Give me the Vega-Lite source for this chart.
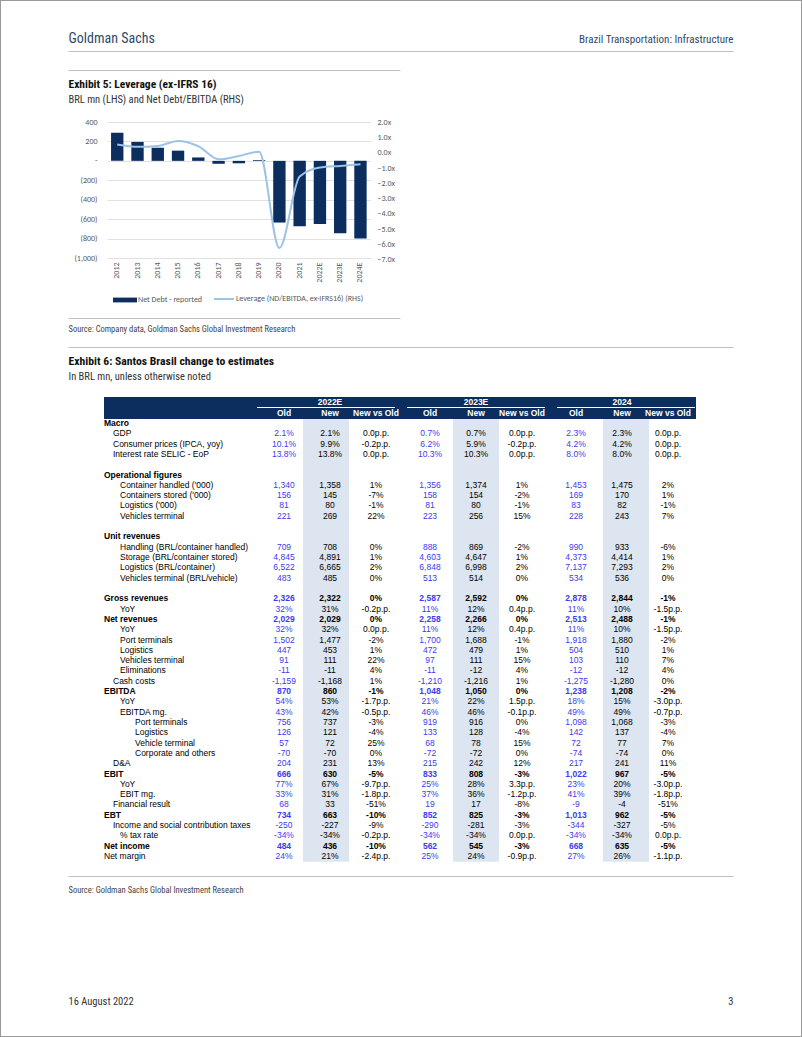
{
  "$schema": "https://vega.github.io/schema/vega-lite/v6.json",
  "background": "white",
  "autosize": "none",
  "padding": 0,
  "width": 802,
  "height": 1037,
  "config": {"view": {"stroke": "#9a9a9a", "strokeWidth": 2}, "font": "Liberation Sans"},
  "datasets": {
    "chart": [
      {"year": "2012", "nd": 290, "lev": 0.55},
      {"year": "2013", "nd": 195, "lev": 0.39},
      {"year": "2014", "nd": 135, "lev": 0.45},
      {"year": "2015", "nd": 105, "lev": 0.78},
      {"year": "2016", "nd": 35, "lev": 0.43},
      {"year": "2017", "nd": -30, "lev": -0.43},
      {"year": "2018", "nd": -25, "lev": -0.21},
      {"year": "2019", "nd": 8, "lev": 0.07},
      {"year": "2020", "nd": -635, "lev": -6.25},
      {"year": "2021", "nd": -672, "lev": -1.56},
      {"year": "2022E", "nd": -650, "lev": -0.97},
      {"year": "2023E", "nd": -745, "lev": -0.86},
      {"year": "2024E", "nd": -800, "lev": -0.75}
    ],
    "labels": [
      {"r": 0, "label": "Macro", "lvl": "0", "b": 1},
      {"r": 1, "label": "GDP", "lvl": "a", "b": 0},
      {"r": 2, "label": "Consumer prices (IPCA, yoy)", "lvl": "a", "b": 0},
      {"r": 3, "label": "Interest rate SELIC - EoP", "lvl": "a", "b": 0},
      {"r": 5, "label": "Operational figures", "lvl": "0", "b": 1},
      {"r": 6, "label": "Container handled ('000)", "lvl": "b", "b": 0},
      {"r": 7, "label": "Containers stored ('000)", "lvl": "b", "b": 0},
      {"r": 8, "label": "Logistics ('000)", "lvl": "b", "b": 0},
      {"r": 9, "label": "Vehicles terminal", "lvl": "b", "b": 0},
      {"r": 11, "label": "Unit revenues", "lvl": "0", "b": 1},
      {"r": 12, "label": "Handling (BRL/container handled)", "lvl": "b", "b": 0},
      {"r": 13, "label": "Storage (BRL/container stored)", "lvl": "b", "b": 0},
      {"r": 14, "label": "Logistics (BRL/container)", "lvl": "b", "b": 0},
      {"r": 15, "label": "Vehicles terminal (BRL/vehicle)", "lvl": "b", "b": 0},
      {"r": 17, "label": "Gross revenues", "lvl": "0", "b": 1},
      {"r": 18, "label": "YoY", "lvl": "b", "b": 0},
      {"r": 19, "label": "Net revenues", "lvl": "0", "b": 1},
      {"r": 20, "label": "YoY", "lvl": "b", "b": 0},
      {"r": 21, "label": "Port terminals", "lvl": "b", "b": 0},
      {"r": 22, "label": "Logistics", "lvl": "b", "b": 0},
      {"r": 23, "label": "Vehicles terminal", "lvl": "b", "b": 0},
      {"r": 24, "label": "Eliminations", "lvl": "b", "b": 0},
      {"r": 25, "label": "Cash costs", "lvl": "a", "b": 0},
      {"r": 26, "label": "EBITDA", "lvl": "0", "b": 1},
      {"r": 27, "label": "YoY", "lvl": "b", "b": 0},
      {"r": 28, "label": "EBITDA mg.", "lvl": "b", "b": 0},
      {"r": 29, "label": "Port terminals", "lvl": "c", "b": 0},
      {"r": 30, "label": "Logistics", "lvl": "c", "b": 0},
      {"r": 31, "label": "Vehicle terminal", "lvl": "c", "b": 0},
      {"r": 32, "label": "Corporate and others", "lvl": "c", "b": 0},
      {"r": 33, "label": "D&A", "lvl": "a", "b": 0},
      {"r": 34, "label": "EBIT", "lvl": "0", "b": 1},
      {"r": 35, "label": "YoY", "lvl": "b", "b": 0},
      {"r": 36, "label": "EBIT mg.", "lvl": "b", "b": 0},
      {"r": 37, "label": "Financial result", "lvl": "a", "b": 0},
      {"r": 38, "label": "EBT", "lvl": "0", "b": 1},
      {"r": 39, "label": "Income and social contribution taxes", "lvl": "a", "b": 0},
      {"r": 40, "label": "% tax rate", "lvl": "b", "b": 0},
      {"r": 41, "label": "Net income", "lvl": "0", "b": 1},
      {"r": 42, "label": "Net margin", "lvl": "0", "b": 0}
    ],
    "cells": [
      {"r": 1, "year": "2022E", "Old": "2.1%", "New": "2.1%", "New vs Old": "0.0p.p.", "b": 0},
      {"r": 1, "year": "2023E", "Old": "0.7%", "New": "0.7%", "New vs Old": "0.0p.p.", "b": 0},
      {"r": 1, "year": "2024", "Old": "2.3%", "New": "2.3%", "New vs Old": "0.0p.p.", "b": 0},
      {"r": 2, "year": "2022E", "Old": "10.1%", "New": "9.9%", "New vs Old": "-0.2p.p.", "b": 0},
      {"r": 2, "year": "2023E", "Old": "6.2%", "New": "5.9%", "New vs Old": "-0.2p.p.", "b": 0},
      {"r": 2, "year": "2024", "Old": "4.2%", "New": "4.2%", "New vs Old": "0.0p.p.", "b": 0},
      {"r": 3, "year": "2022E", "Old": "13.8%", "New": "13.8%", "New vs Old": "0.0p.p.", "b": 0},
      {"r": 3, "year": "2023E", "Old": "10.3%", "New": "10.3%", "New vs Old": "0.0p.p.", "b": 0},
      {"r": 3, "year": "2024", "Old": "8.0%", "New": "8.0%", "New vs Old": "0.0p.p.", "b": 0},
      {"r": 6, "year": "2022E", "Old": "1,340", "New": "1,358", "New vs Old": "1%", "b": 0},
      {"r": 6, "year": "2023E", "Old": "1,356", "New": "1,374", "New vs Old": "1%", "b": 0},
      {"r": 6, "year": "2024", "Old": "1,453", "New": "1,475", "New vs Old": "2%", "b": 0},
      {"r": 7, "year": "2022E", "Old": "156", "New": "145", "New vs Old": "-7%", "b": 0},
      {"r": 7, "year": "2023E", "Old": "158", "New": "154", "New vs Old": "-2%", "b": 0},
      {"r": 7, "year": "2024", "Old": "169", "New": "170", "New vs Old": "1%", "b": 0},
      {"r": 8, "year": "2022E", "Old": "81", "New": "80", "New vs Old": "-1%", "b": 0},
      {"r": 8, "year": "2023E", "Old": "81", "New": "80", "New vs Old": "-1%", "b": 0},
      {"r": 8, "year": "2024", "Old": "83", "New": "82", "New vs Old": "-1%", "b": 0},
      {"r": 9, "year": "2022E", "Old": "221", "New": "269", "New vs Old": "22%", "b": 0},
      {"r": 9, "year": "2023E", "Old": "223", "New": "256", "New vs Old": "15%", "b": 0},
      {"r": 9, "year": "2024", "Old": "228", "New": "243", "New vs Old": "7%", "b": 0},
      {"r": 12, "year": "2022E", "Old": "709", "New": "708", "New vs Old": "0%", "b": 0},
      {"r": 12, "year": "2023E", "Old": "888", "New": "869", "New vs Old": "-2%", "b": 0},
      {"r": 12, "year": "2024", "Old": "990", "New": "933", "New vs Old": "-6%", "b": 0},
      {"r": 13, "year": "2022E", "Old": "4,845", "New": "4,891", "New vs Old": "1%", "b": 0},
      {"r": 13, "year": "2023E", "Old": "4,603", "New": "4,647", "New vs Old": "1%", "b": 0},
      {"r": 13, "year": "2024", "Old": "4,373", "New": "4,414", "New vs Old": "1%", "b": 0},
      {"r": 14, "year": "2022E", "Old": "6,522", "New": "6,665", "New vs Old": "2%", "b": 0},
      {"r": 14, "year": "2023E", "Old": "6,848", "New": "6,998", "New vs Old": "2%", "b": 0},
      {"r": 14, "year": "2024", "Old": "7,137", "New": "7,293", "New vs Old": "2%", "b": 0},
      {"r": 15, "year": "2022E", "Old": "483", "New": "485", "New vs Old": "0%", "b": 0},
      {"r": 15, "year": "2023E", "Old": "513", "New": "514", "New vs Old": "0%", "b": 0},
      {"r": 15, "year": "2024", "Old": "534", "New": "536", "New vs Old": "0%", "b": 0},
      {"r": 17, "year": "2022E", "Old": "2,326", "New": "2,322", "New vs Old": "0%", "b": 1},
      {"r": 17, "year": "2023E", "Old": "2,587", "New": "2,592", "New vs Old": "0%", "b": 1},
      {"r": 17, "year": "2024", "Old": "2,878", "New": "2,844", "New vs Old": "-1%", "b": 1},
      {"r": 18, "year": "2022E", "Old": "32%", "New": "31%", "New vs Old": "-0.2p.p.", "b": 0},
      {"r": 18, "year": "2023E", "Old": "11%", "New": "12%", "New vs Old": "0.4p.p.", "b": 0},
      {"r": 18, "year": "2024", "Old": "11%", "New": "10%", "New vs Old": "-1.5p.p.", "b": 0},
      {"r": 19, "year": "2022E", "Old": "2,029", "New": "2,029", "New vs Old": "0%", "b": 1},
      {"r": 19, "year": "2023E", "Old": "2,258", "New": "2,266", "New vs Old": "0%", "b": 1},
      {"r": 19, "year": "2024", "Old": "2,513", "New": "2,488", "New vs Old": "-1%", "b": 1},
      {"r": 20, "year": "2022E", "Old": "32%", "New": "32%", "New vs Old": "0.0p.p.", "b": 0},
      {"r": 20, "year": "2023E", "Old": "11%", "New": "12%", "New vs Old": "0.4p.p.", "b": 0},
      {"r": 20, "year": "2024", "Old": "11%", "New": "10%", "New vs Old": "-1.5p.p.", "b": 0},
      {"r": 21, "year": "2022E", "Old": "1,502", "New": "1,477", "New vs Old": "-2%", "b": 0},
      {"r": 21, "year": "2023E", "Old": "1,700", "New": "1,688", "New vs Old": "-1%", "b": 0},
      {"r": 21, "year": "2024", "Old": "1,918", "New": "1,880", "New vs Old": "-2%", "b": 0},
      {"r": 22, "year": "2022E", "Old": "447", "New": "453", "New vs Old": "1%", "b": 0},
      {"r": 22, "year": "2023E", "Old": "472", "New": "479", "New vs Old": "1%", "b": 0},
      {"r": 22, "year": "2024", "Old": "504", "New": "510", "New vs Old": "1%", "b": 0},
      {"r": 23, "year": "2022E", "Old": "91", "New": "111", "New vs Old": "22%", "b": 0},
      {"r": 23, "year": "2023E", "Old": "97", "New": "111", "New vs Old": "15%", "b": 0},
      {"r": 23, "year": "2024", "Old": "103", "New": "110", "New vs Old": "7%", "b": 0},
      {"r": 24, "year": "2022E", "Old": "-11", "New": "-11", "New vs Old": "4%", "b": 0},
      {"r": 24, "year": "2023E", "Old": "-11", "New": "-12", "New vs Old": "4%", "b": 0},
      {"r": 24, "year": "2024", "Old": "-12", "New": "-12", "New vs Old": "4%", "b": 0},
      {"r": 25, "year": "2022E", "Old": "-1,159", "New": "-1,168", "New vs Old": "1%", "b": 0},
      {"r": 25, "year": "2023E", "Old": "-1,210", "New": "-1,216", "New vs Old": "1%", "b": 0},
      {"r": 25, "year": "2024", "Old": "-1,275", "New": "-1,280", "New vs Old": "0%", "b": 0},
      {"r": 26, "year": "2022E", "Old": "870", "New": "860", "New vs Old": "-1%", "b": 1},
      {"r": 26, "year": "2023E", "Old": "1,048", "New": "1,050", "New vs Old": "0%", "b": 1},
      {"r": 26, "year": "2024", "Old": "1,238", "New": "1,208", "New vs Old": "-2%", "b": 1},
      {"r": 27, "year": "2022E", "Old": "54%", "New": "53%", "New vs Old": "-1.7p.p.", "b": 0},
      {"r": 27, "year": "2023E", "Old": "21%", "New": "22%", "New vs Old": "1.5p.p.", "b": 0},
      {"r": 27, "year": "2024", "Old": "18%", "New": "15%", "New vs Old": "-3.0p.p.", "b": 0},
      {"r": 28, "year": "2022E", "Old": "43%", "New": "42%", "New vs Old": "-0.5p.p.", "b": 0},
      {"r": 28, "year": "2023E", "Old": "46%", "New": "46%", "New vs Old": "-0.1p.p.", "b": 0},
      {"r": 28, "year": "2024", "Old": "49%", "New": "49%", "New vs Old": "-0.7p.p.", "b": 0},
      {"r": 29, "year": "2022E", "Old": "756", "New": "737", "New vs Old": "-3%", "b": 0},
      {"r": 29, "year": "2023E", "Old": "919", "New": "916", "New vs Old": "0%", "b": 0},
      {"r": 29, "year": "2024", "Old": "1,098", "New": "1,068", "New vs Old": "-3%", "b": 0},
      {"r": 30, "year": "2022E", "Old": "126", "New": "121", "New vs Old": "-4%", "b": 0},
      {"r": 30, "year": "2023E", "Old": "133", "New": "128", "New vs Old": "-4%", "b": 0},
      {"r": 30, "year": "2024", "Old": "142", "New": "137", "New vs Old": "-4%", "b": 0},
      {"r": 31, "year": "2022E", "Old": "57", "New": "72", "New vs Old": "25%", "b": 0},
      {"r": 31, "year": "2023E", "Old": "68", "New": "78", "New vs Old": "15%", "b": 0},
      {"r": 31, "year": "2024", "Old": "72", "New": "77", "New vs Old": "7%", "b": 0},
      {"r": 32, "year": "2022E", "Old": "-70", "New": "-70", "New vs Old": "0%", "b": 0},
      {"r": 32, "year": "2023E", "Old": "-72", "New": "-72", "New vs Old": "0%", "b": 0},
      {"r": 32, "year": "2024", "Old": "-74", "New": "-74", "New vs Old": "0%", "b": 0},
      {"r": 33, "year": "2022E", "Old": "204", "New": "231", "New vs Old": "13%", "b": 0},
      {"r": 33, "year": "2023E", "Old": "215", "New": "242", "New vs Old": "12%", "b": 0},
      {"r": 33, "year": "2024", "Old": "217", "New": "241", "New vs Old": "11%", "b": 0},
      {"r": 34, "year": "2022E", "Old": "666", "New": "630", "New vs Old": "-5%", "b": 1},
      {"r": 34, "year": "2023E", "Old": "833", "New": "808", "New vs Old": "-3%", "b": 1},
      {"r": 34, "year": "2024", "Old": "1,022", "New": "967", "New vs Old": "-5%", "b": 1},
      {"r": 35, "year": "2022E", "Old": "77%", "New": "67%", "New vs Old": "-9.7p.p.", "b": 0},
      {"r": 35, "year": "2023E", "Old": "25%", "New": "28%", "New vs Old": "3.3p.p.", "b": 0},
      {"r": 35, "year": "2024", "Old": "23%", "New": "20%", "New vs Old": "-3.0p.p.", "b": 0},
      {"r": 36, "year": "2022E", "Old": "33%", "New": "31%", "New vs Old": "-1.8p.p.", "b": 0},
      {"r": 36, "year": "2023E", "Old": "37%", "New": "36%", "New vs Old": "-1.2p.p.", "b": 0},
      {"r": 36, "year": "2024", "Old": "41%", "New": "39%", "New vs Old": "-1.8p.p.", "b": 0},
      {"r": 37, "year": "2022E", "Old": "68", "New": "33", "New vs Old": "-51%", "b": 0},
      {"r": 37, "year": "2023E", "Old": "19", "New": "17", "New vs Old": "-8%", "b": 0},
      {"r": 37, "year": "2024", "Old": "-9", "New": "-4", "New vs Old": "-51%", "b": 0},
      {"r": 38, "year": "2022E", "Old": "734", "New": "663", "New vs Old": "-10%", "b": 1},
      {"r": 38, "year": "2023E", "Old": "852", "New": "825", "New vs Old": "-3%", "b": 1},
      {"r": 38, "year": "2024", "Old": "1,013", "New": "962", "New vs Old": "-5%", "b": 1},
      {"r": 39, "year": "2022E", "Old": "-250", "New": "-227", "New vs Old": "-9%", "b": 0},
      {"r": 39, "year": "2023E", "Old": "-290", "New": "-281", "New vs Old": "-3%", "b": 0},
      {"r": 39, "year": "2024", "Old": "-344", "New": "-327", "New vs Old": "-5%", "b": 0},
      {"r": 40, "year": "2022E", "Old": "-34%", "New": "-34%", "New vs Old": "-0.2p.p.", "b": 0},
      {"r": 40, "year": "2023E", "Old": "-34%", "New": "-34%", "New vs Old": "0.0p.p.", "b": 0},
      {"r": 40, "year": "2024", "Old": "-34%", "New": "-34%", "New vs Old": "0.0p.p.", "b": 0},
      {"r": 41, "year": "2022E", "Old": "484", "New": "436", "New vs Old": "-10%", "b": 1},
      {"r": 41, "year": "2023E", "Old": "562", "New": "545", "New vs Old": "-3%", "b": 1},
      {"r": 41, "year": "2024", "Old": "668", "New": "635", "New vs Old": "-5%", "b": 1},
      {"r": 42, "year": "2022E", "Old": "24%", "New": "21%", "New vs Old": "-2.4p.p.", "b": 0},
      {"r": 42, "year": "2023E", "Old": "25%", "New": "24%", "New vs Old": "-0.9p.p.", "b": 0},
      {"r": 42, "year": "2024", "Old": "27%", "New": "26%", "New vs Old": "-1.1p.p.", "b": 0}
    ]
  },
  "layer": [
    {
      "data": {"values": [{"v": 0}]},
      "mark": {"type": "point", "opacity": 0},
      "encoding": {
        "x": {"field": "v", "type": "quantitative", "scale": {"domain": [0, 1], "range": [68, 733]},
          "axis": {"orient": "bottom", "offset": -986, "domain": true, "domainColor": "#bfbfbf", "domainWidth": 1, "ticks": false, "labels": false, "grid": false,
            "title": "Brazil Transportation: Infrastructure", "titleX": 733, "titleY": -9, "titleAlign": "right", "titleBaseline": "alphabetic",
            "titleFont": "Roboto Condensed, Liberation Sans Narrow, Arial Narrow, DejaVu Sans Condensed, sans-serif", "titleFontSize": 11, "titleFontWeight": "normal", "titleColor": "#2e4a6b"}},
        "y": {"field": "v", "type": "quantitative", "scale": {"domain": [0, 1]},
          "axis": {"orient": "left", "offset": 0, "domain": false, "ticks": false, "labels": false, "grid": false,
            "title": "Goldman Sachs", "titleX": 68, "titleY": 42, "titleAngle": 0, "titleAlign": "left", "titleBaseline": "alphabetic",
            "titleFont": "Roboto Condensed, Liberation Sans Narrow, Arial Narrow, DejaVu Sans Condensed, sans-serif", "titleFontSize": 14, "titleFontWeight": "normal", "titleColor": "#2e4a6b"}}
      }
    },
    {
      "data": {"values": [{"v": 0}]},
      "mark": {"type": "point", "opacity": 0},
      "encoding": {
        "x": {"field": "v", "type": "quantitative", "scale": {"domain": [0, 1], "range": [68, 400]},
          "axis": {"orient": "bottom", "offset": -967, "domain": true, "domainColor": "#bfbfbf", "domainWidth": 1, "ticks": false, "labels": false, "grid": false,
            "title": "Exhibit 5: Leverage (ex-IFRS 16)", "titleX": 68, "titleY": 17, "titleAlign": "left", "titleBaseline": "alphabetic",
            "titleFont": "Roboto Condensed, Liberation Sans Narrow, Arial Narrow, DejaVu Sans Condensed, sans-serif", "titleFontSize": 11.5, "titleFontWeight": "bold", "titleColor": "#111111"}},
        "y": {"field": "v", "type": "quantitative", "scale": {"domain": [0, 1]},
          "axis": {"orient": "left", "offset": 0, "domain": false, "ticks": false, "labels": false, "grid": false,
            "title": "BRL mn (LHS) and Net Debt/EBITDA (RHS)", "titleX": 68, "titleY": 102, "titleAngle": 0, "titleAlign": "left", "titleBaseline": "alphabetic",
            "titleFont": "Roboto Condensed, Liberation Sans Narrow, Arial Narrow, DejaVu Sans Condensed, sans-serif", "titleFontSize": 10.5, "titleFontWeight": "normal", "titleColor": "#333333"}}
      }
    },
    {
      "data": {"values": [{"v": 0}]},
      "mark": {"type": "point", "opacity": 0},
      "encoding": {
        "x": {"field": "v", "type": "quantitative", "scale": {"domain": [0, 1], "range": [68, 400]},
          "axis": {"orient": "bottom", "offset": -719, "domain": true, "domainColor": "#bfbfbf", "domainWidth": 1, "ticks": false, "labels": false, "grid": false,
            "title": "Source: Company data, Goldman Sachs Global Investment Research", "titleX": 68, "titleY": 10, "titleAlign": "left", "titleBaseline": "middle",
            "titleFont": "Roboto Condensed, Liberation Sans Narrow, Arial Narrow, DejaVu Sans Condensed, sans-serif", "titleFontSize": 8.5, "titleFontWeight": "normal", "titleColor": "#444444"}}
      }
    },
    {
      "data": {"values": [{"v": 0}]},
      "mark": {"type": "point", "opacity": 0},
      "encoding": {
        "x": {"field": "v", "type": "quantitative", "scale": {"domain": [0, 1], "range": [68, 733]},
          "axis": {"orient": "bottom", "offset": -690, "domain": true, "domainColor": "#bfbfbf", "domainWidth": 1, "ticks": false, "labels": false, "grid": false,
            "title": "Exhibit 6: Santos Brasil change to estimates", "titleX": 68, "titleY": 17, "titleAlign": "left", "titleBaseline": "alphabetic",
            "titleFont": "Roboto Condensed, Liberation Sans Narrow, Arial Narrow, DejaVu Sans Condensed, sans-serif", "titleFontSize": 11.7, "titleFontWeight": "bold", "titleColor": "#111111"}},
        "y": {"field": "v", "type": "quantitative", "scale": {"domain": [0, 1]},
          "axis": {"orient": "left", "offset": 0, "domain": false, "ticks": false, "labels": false, "grid": false,
            "title": "In BRL mn, unless otherwise noted", "titleX": 68, "titleY": 379, "titleAngle": 0, "titleAlign": "left", "titleBaseline": "alphabetic",
            "titleFont": "Roboto Condensed, Liberation Sans Narrow, Arial Narrow, DejaVu Sans Condensed, sans-serif", "titleFontSize": 10.5, "titleFontWeight": "normal", "titleColor": "#333333"}}
      }
    },
    {
      "data": {"values": [{"v": 0}]},
      "mark": {"type": "point", "opacity": 0},
      "encoding": {
        "x": {"field": "v", "type": "quantitative", "scale": {"domain": [0, 1], "range": [68, 733]},
          "axis": {"orient": "bottom", "offset": -161, "domain": true, "domainColor": "#bfbfbf", "domainWidth": 1, "ticks": false, "labels": false, "grid": false,
            "title": "Source: Goldman Sachs Global Investment Research", "titleX": 68, "titleY": 13, "titleAlign": "left", "titleBaseline": "middle",
            "titleFont": "Roboto Condensed, Liberation Sans Narrow, Arial Narrow, DejaVu Sans Condensed, sans-serif", "titleFontSize": 8.5, "titleFontWeight": "normal", "titleColor": "#444444"}}
      }
    },
    {
      "data": {"values": [{"v": 0}]},
      "mark": {"type": "point", "opacity": 0},
      "encoding": {
        "x": {"field": "v", "type": "quantitative", "scale": {"domain": [0, 1]},
          "axis": {"orient": "bottom", "offset": 0, "domain": false, "ticks": false, "labels": false, "grid": false,
            "title": "16 August 2022", "titleX": 68, "titleY": -33, "titleAlign": "left", "titleBaseline": "alphabetic",
            "titleFont": "Roboto Condensed, Liberation Sans Narrow, Arial Narrow, DejaVu Sans Condensed, sans-serif", "titleFontSize": 10.5, "titleFontWeight": "normal", "titleColor": "#333333"}},
        "y": {"field": "v", "type": "quantitative", "scale": {"domain": [0, 1]},
          "axis": {"orient": "left", "offset": 0, "domain": false, "ticks": false, "labels": false, "grid": false,
            "title": "3", "titleX": 733, "titleY": 1004, "titleAngle": 0, "titleAlign": "right", "titleBaseline": "alphabetic",
            "titleFont": "Roboto Condensed, Liberation Sans Narrow, Arial Narrow, DejaVu Sans Condensed, sans-serif", "titleFontSize": 10.5, "titleFontWeight": "normal", "titleColor": "#333333"}}
      }
    },
    {
      "data": {"name": "chart"},
      "mark": {"type": "bar"},
      "encoding": {
        "x": {"field": "year", "type": "ordinal", "sort": null,
          "scale": {"range": [107.1, 370.6], "paddingInner": 0.39, "paddingOuter": 0.195},
          "axis": {"orient": "bottom", "offset": -778, "domain": false, "ticks": false, "grid": false, "labelAngle": -90, "labelAlign": "right", "labelBaseline": "middle", "labelPadding": 3,
            "labelFont": "Carlito, Lato, sans-serif", "labelFontSize": 8, "labelColor": "#595959", "title": null}},
        "y": {"field": "nd", "type": "quantitative",
          "scale": {"domain": [-1000, 400], "range": [258, 122], "nice": false, "zero": false},
          "axis": {"orient": "left", "offset": -101, "values": [-1000, -800, -600, -400, -200, 0, 200, 400],
            "labelExpr": "datum.value == 0 ? '-' : (datum.value < 0 ? '(' + format(-datum.value, ',') + ')' : format(datum.value, ','))",
            "domain": false, "ticks": false, "grid": true, "gridColor": "#d9d9d9", "gridWidth": 0.8, "labelPadding": 4,
            "labelFont": "Carlito, Lato, sans-serif", "labelFontSize": 8, "labelColor": "#595959", "title": null}},
        "fill": {"datum": "Net Debt - reported", "type": "nominal",
          "scale": {"domain": ["Net Debt - reported"], "range": ["#0b2e5f"]},
          "legend": {"orient": "none", "legendX": 113, "legendY": 288, "title": null, "symbolType": "M-1,-0.2H1V0.2H-1Z", "symbolSize": 576, "symbolStrokeWidth": 0,
            "labelFont": "Carlito, Lato, sans-serif", "labelFontSize": 8, "labelColor": "#595959", "labelOffset": 1}}
      }
    },
    {
      "data": {"name": "chart"},
      "mark": {"type": "line", "interpolate": "monotone", "strokeWidth": 2},
      "encoding": {
        "x": {"field": "year", "type": "ordinal", "sort": null,
          "scale": {"range": [107.1, 370.6], "paddingInner": 0.39, "paddingOuter": 0.195},
          "axis": null},
        "y": {"field": "lev", "type": "quantitative",
          "scale": {"domain": [-7, 2], "range": [259.5, 122.3], "nice": false, "zero": false},
          "axis": {"orient": "right", "offset": -429, "values": [-7, -6, -5, -4, -3, -2, -1, 0, 1, 2],
            "labelExpr": "format(datum.value, '.1f') + 'x'",
            "domain": false, "ticks": false, "grid": false, "labelPadding": 4,
            "labelFont": "Carlito, Lato, sans-serif", "labelFontSize": 8, "labelColor": "#595959", "title": null}},
        "stroke": {"datum": "Leverage (ND/EBITDA, ex-IFRS16) (RHS)", "type": "nominal",
          "scale": {"domain": ["Leverage (ND/EBITDA, ex-IFRS16) (RHS)"], "range": ["#9dc3e6"]},
          "legend": {"orient": "none", "legendX": 213, "legendY": 288, "title": null, "symbolType": "stroke", "symbolSize": 400, "symbolStrokeWidth": 2,
            "labelFont": "Carlito, Lato, sans-serif", "labelFontSize": 8, "labelColor": "#595959", "labelOffset": 1}}
      }
    },
    {
      "data": {"values": [{"part": "header"}]},
      "mark": {"type": "rect", "color": "#0b2e5f"},
      "encoding": {
        "x": {"datum": 0, "type": "quantitative", "scale": {"domain": [0, 1], "range": [104, 696]}, "axis": null},
        "x2": {"datum": 1},
        "y": {"datum": -2.52, "type": "quantitative", "scale": {"domain": [0, 42], "range": [423, 856], "nice": false, "zero": false}, "axis": null},
        "y2": {"datum": -0.39}
      }
    },
    {
      "data": {"values": [{"year": "2022E"}, {"year": "2023E"}, {"year": "2024"}]},
      "mark": {"type": "bar", "color": "#dde6f0", "width": 46},
      "encoding": {
        "x": {"field": "year", "type": "nominal", "scale": {"domain": ["2022E", "2023E", "2024"], "range": [257, 695], "paddingInner": 0.08, "paddingOuter": 0}, "axis": null},
        "y": {"datum": -0.39, "type": "quantitative", "scale": {"domain": [0, 42], "range": [423, 856], "nice": false, "zero": false}, "axis": null},
        "y2": {"datum": 42.55}
      }
    },
    {
      "data": {"values": [{"year": "2022E"}, {"year": "2023E"}, {"year": "2024"}]},
      "mark": {"type": "bar", "color": "#ffffff"},
      "encoding": {
        "x": {"field": "year", "type": "nominal", "scale": {"domain": ["2022E", "2023E", "2024"], "range": [257, 695], "paddingInner": 0.08, "paddingOuter": 0}, "axis": null},
        "y": {"datum": -1.56, "type": "quantitative", "scale": {"domain": [0, 42], "range": [423, 856], "nice": false, "zero": false}, "axis": null},
        "y2": {"datum": -1.46}
      }
    },
    {
      "data": {"values": [{"year": "2022E"}, {"year": "2023E"}, {"year": "2024"}]},
      "mark": {"type": "text", "color": "#ffffff", "fontWeight": "bold", "fontSize": 8.5, "baseline": "middle", "align": "center"},
      "encoding": {
        "x": {"field": "year", "type": "nominal", "scale": {"domain": ["2022E", "2023E", "2024"], "range": [257, 695], "paddingInner": 0.08, "paddingOuter": 0}, "axis": null},
        "y": {"datum": -2.04, "type": "quantitative", "scale": {"domain": [0, 42], "range": [423, 856], "nice": false, "zero": false}, "axis": null},
        "text": {"field": "year"}
      }
    },
    {
      "data": {"values": [{"year": "2022E", "col": "Old"}, {"year": "2023E", "col": "Old"}, {"year": "2024", "col": "Old"}]},
      "mark": {"type": "text", "color": "#ffffff", "fontWeight": "bold", "fontSize": 8.5, "baseline": "middle", "align": "center", "dx": -46},
      "encoding": {
        "x": {"field": "year", "type": "nominal", "scale": {"domain": ["2022E", "2023E", "2024"], "range": [257, 695], "paddingInner": 0.08, "paddingOuter": 0}, "axis": null},
        "y": {"datum": -0.97, "type": "quantitative", "scale": {"domain": [0, 42], "range": [423, 856], "nice": false, "zero": false}, "axis": null},
        "text": {"field": "col"}
      }
    },
    {
      "data": {"values": [{"year": "2022E", "col": "New"}, {"year": "2023E", "col": "New"}, {"year": "2024", "col": "New"}]},
      "mark": {"type": "text", "color": "#ffffff", "fontWeight": "bold", "fontSize": 8.5, "baseline": "middle", "align": "center", "dx": 0},
      "encoding": {
        "x": {"field": "year", "type": "nominal", "scale": {"domain": ["2022E", "2023E", "2024"], "range": [257, 695], "paddingInner": 0.08, "paddingOuter": 0}, "axis": null},
        "y": {"datum": -0.97, "type": "quantitative", "scale": {"domain": [0, 42], "range": [423, 856], "nice": false, "zero": false}, "axis": null},
        "text": {"field": "col"}
      }
    },
    {
      "data": {"values": [{"year": "2022E", "col": "New vs Old"}, {"year": "2023E", "col": "New vs Old"}, {"year": "2024", "col": "New vs Old"}]},
      "mark": {"type": "text", "color": "#ffffff", "fontWeight": "bold", "fontSize": 8.5, "baseline": "middle", "align": "center", "dx": 46},
      "encoding": {
        "x": {"field": "year", "type": "nominal", "scale": {"domain": ["2022E", "2023E", "2024"], "range": [257, 695], "paddingInner": 0.08, "paddingOuter": 0}, "axis": null},
        "y": {"datum": -0.97, "type": "quantitative", "scale": {"domain": [0, 42], "range": [423, 856], "nice": false, "zero": false}, "axis": null},
        "text": {"field": "col"}
      }
    },
    {
      "data": {"name": "cells"},
      "transform": [{"fold": ["Old", "New", "New vs Old"], "as": ["col", "v"]}, {"filter": "datum.col == 'Old' && datum.b == 0"}],
      "mark": {"type": "text", "fontSize": 8.5, "baseline": "middle", "align": "center", "color": "#3b3bef", "dx": -46},
      "encoding": {
        "x": {"field": "year", "type": "nominal", "scale": {"domain": ["2022E", "2023E", "2024"], "range": [257, 695], "paddingInner": 0.08, "paddingOuter": 0}, "axis": null},
        "y": {"field": "r", "type": "quantitative", "scale": {"domain": [0, 42], "range": [423, 856], "nice": false, "zero": false}, "axis": null},
        "text": {"field": "v"}
      }
    },
    {
      "data": {"name": "cells"},
      "transform": [{"fold": ["Old", "New", "New vs Old"], "as": ["col", "v"]}, {"filter": "datum.col == 'Old' && datum.b == 1"}],
      "mark": {"type": "text", "fontSize": 8.5, "fontWeight": "bold", "baseline": "middle", "align": "center", "color": "#3b3bef", "dx": -46},
      "encoding": {
        "x": {"field": "year", "type": "nominal", "scale": {"domain": ["2022E", "2023E", "2024"], "range": [257, 695], "paddingInner": 0.08, "paddingOuter": 0}, "axis": null},
        "y": {"field": "r", "type": "quantitative", "scale": {"domain": [0, 42], "range": [423, 856], "nice": false, "zero": false}, "axis": null},
        "text": {"field": "v"}
      }
    },
    {
      "data": {"name": "cells"},
      "transform": [{"fold": ["Old", "New", "New vs Old"], "as": ["col", "v"]}, {"filter": "datum.col == 'New' && datum.b == 0"}],
      "mark": {"type": "text", "fontSize": 8.5, "baseline": "middle", "align": "center", "color": "#000000", "dx": 0},
      "encoding": {
        "x": {"field": "year", "type": "nominal", "scale": {"domain": ["2022E", "2023E", "2024"], "range": [257, 695], "paddingInner": 0.08, "paddingOuter": 0}, "axis": null},
        "y": {"field": "r", "type": "quantitative", "scale": {"domain": [0, 42], "range": [423, 856], "nice": false, "zero": false}, "axis": null},
        "text": {"field": "v"}
      }
    },
    {
      "data": {"name": "cells"},
      "transform": [{"fold": ["Old", "New", "New vs Old"], "as": ["col", "v"]}, {"filter": "datum.col == 'New' && datum.b == 1"}],
      "mark": {"type": "text", "fontSize": 8.5, "fontWeight": "bold", "baseline": "middle", "align": "center", "color": "#000000", "dx": 0},
      "encoding": {
        "x": {"field": "year", "type": "nominal", "scale": {"domain": ["2022E", "2023E", "2024"], "range": [257, 695], "paddingInner": 0.08, "paddingOuter": 0}, "axis": null},
        "y": {"field": "r", "type": "quantitative", "scale": {"domain": [0, 42], "range": [423, 856], "nice": false, "zero": false}, "axis": null},
        "text": {"field": "v"}
      }
    },
    {
      "data": {"name": "cells"},
      "transform": [{"fold": ["Old", "New", "New vs Old"], "as": ["col", "v"]}, {"filter": "datum.col == 'New vs Old' && datum.b == 0"}],
      "mark": {"type": "text", "fontSize": 8.5, "baseline": "middle", "align": "center", "color": "#000000", "dx": 46},
      "encoding": {
        "x": {"field": "year", "type": "nominal", "scale": {"domain": ["2022E", "2023E", "2024"], "range": [257, 695], "paddingInner": 0.08, "paddingOuter": 0}, "axis": null},
        "y": {"field": "r", "type": "quantitative", "scale": {"domain": [0, 42], "range": [423, 856], "nice": false, "zero": false}, "axis": null},
        "text": {"field": "v"}
      }
    },
    {
      "data": {"name": "cells"},
      "transform": [{"fold": ["Old", "New", "New vs Old"], "as": ["col", "v"]}, {"filter": "datum.col == 'New vs Old' && datum.b == 1"}],
      "mark": {"type": "text", "fontSize": 8.5, "fontWeight": "bold", "baseline": "middle", "align": "center", "color": "#000000", "dx": 46},
      "encoding": {
        "x": {"field": "year", "type": "nominal", "scale": {"domain": ["2022E", "2023E", "2024"], "range": [257, 695], "paddingInner": 0.08, "paddingOuter": 0}, "axis": null},
        "y": {"field": "r", "type": "quantitative", "scale": {"domain": [0, 42], "range": [423, 856], "nice": false, "zero": false}, "axis": null},
        "text": {"field": "v"}
      }
    },
    {
      "data": {"name": "labels"},
      "transform": [{"filter": "datum.lvl == '0' && datum.b == 1"}],
      "mark": {"type": "text", "align": "left", "baseline": "middle", "fontSize": 8.5, "fontWeight": "bold", "color": "#000000", "dx": 0},
      "encoding": {
        "x": {"datum": 0, "type": "quantitative", "scale": {"domain": [0, 1], "range": [104, 696]}, "axis": null},
        "y": {"field": "r", "type": "quantitative", "scale": {"domain": [0, 42], "range": [423, 856], "nice": false, "zero": false}, "axis": null},
        "text": {"field": "label"}
      }
    },
    {
      "data": {"name": "labels"},
      "transform": [{"filter": "datum.lvl == '0' && datum.b == 0"}],
      "mark": {"type": "text", "align": "left", "baseline": "middle", "fontSize": 8.5, "color": "#000000", "dx": 0},
      "encoding": {
        "x": {"datum": 0, "type": "quantitative", "scale": {"domain": [0, 1], "range": [104, 696]}, "axis": null},
        "y": {"field": "r", "type": "quantitative", "scale": {"domain": [0, 42], "range": [423, 856], "nice": false, "zero": false}, "axis": null},
        "text": {"field": "label"}
      }
    },
    {
      "data": {"name": "labels"},
      "transform": [{"filter": "datum.lvl == 'a'"}],
      "mark": {"type": "text", "align": "left", "baseline": "middle", "fontSize": 8.5, "color": "#000000", "dx": 9},
      "encoding": {
        "x": {"datum": 0, "type": "quantitative", "scale": {"domain": [0, 1], "range": [104, 696]}, "axis": null},
        "y": {"field": "r", "type": "quantitative", "scale": {"domain": [0, 42], "range": [423, 856], "nice": false, "zero": false}, "axis": null},
        "text": {"field": "label"}
      }
    },
    {
      "data": {"name": "labels"},
      "transform": [{"filter": "datum.lvl == 'b'"}],
      "mark": {"type": "text", "align": "left", "baseline": "middle", "fontSize": 8.5, "color": "#000000", "dx": 16},
      "encoding": {
        "x": {"datum": 0, "type": "quantitative", "scale": {"domain": [0, 1], "range": [104, 696]}, "axis": null},
        "y": {"field": "r", "type": "quantitative", "scale": {"domain": [0, 42], "range": [423, 856], "nice": false, "zero": false}, "axis": null},
        "text": {"field": "label"}
      }
    },
    {
      "data": {"name": "labels"},
      "transform": [{"filter": "datum.lvl == 'c'"}],
      "mark": {"type": "text", "align": "left", "baseline": "middle", "fontSize": 8.5, "color": "#000000", "dx": 31},
      "encoding": {
        "x": {"datum": 0, "type": "quantitative", "scale": {"domain": [0, 1], "range": [104, 696]}, "axis": null},
        "y": {"field": "r", "type": "quantitative", "scale": {"domain": [0, 42], "range": [423, 856], "nice": false, "zero": false}, "axis": null},
        "text": {"field": "label"}
      }
    }
  ],
  "resolve": {"scale": {"x": "independent", "y": "independent"}, "axis": {"x": "independent", "y": "independent"}}
}
